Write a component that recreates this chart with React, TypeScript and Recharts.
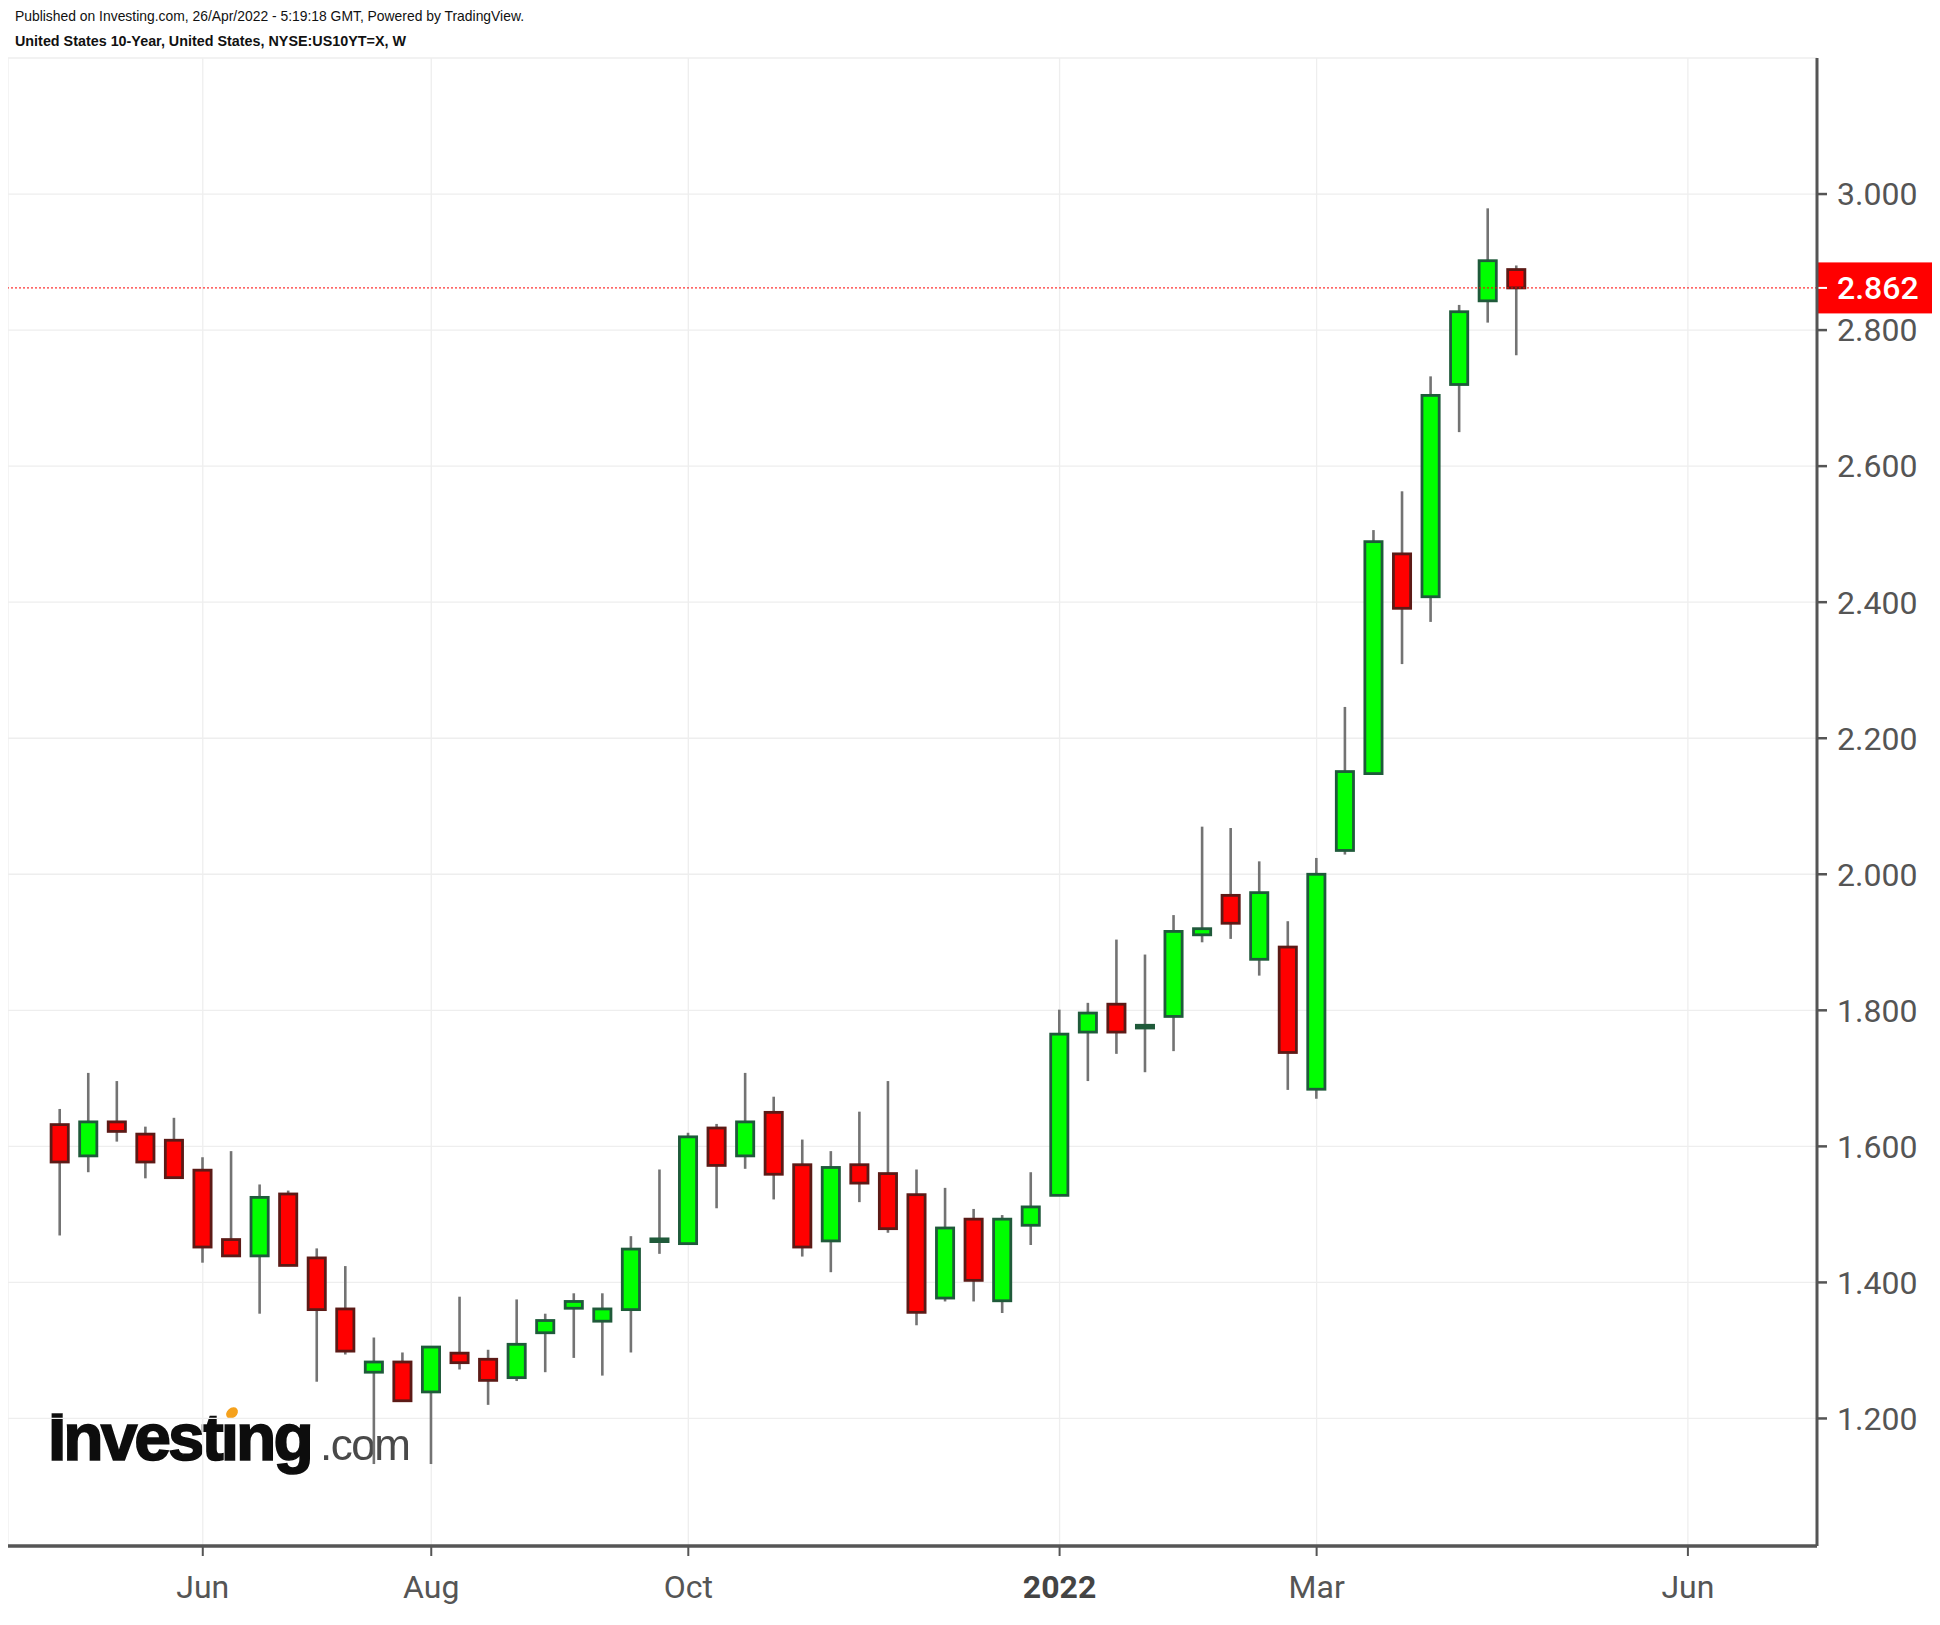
import React from 'react';
import { ComposedChart, Bar, XAxis, YAxis, CartesianGrid, ReferenceLine } from 'recharts';

// Weekly candles, United States 10-Year yield (week start dates)
const weeks = [
  '2021-05-03', '2021-05-10', '2021-05-17', '2021-05-24', '2021-05-31',
  '2021-06-07', '2021-06-14', '2021-06-21', '2021-06-28',
  '2021-07-05', '2021-07-12', '2021-07-19', '2021-07-26',
  '2021-08-02', '2021-08-09', '2021-08-16', '2021-08-23', '2021-08-30',
  '2021-09-06', '2021-09-13', '2021-09-20', '2021-09-27',
  '2021-10-04', '2021-10-11', '2021-10-18', '2021-10-25',
  '2021-11-01', '2021-11-08', '2021-11-15', '2021-11-22', '2021-11-29',
  '2021-12-06', '2021-12-13', '2021-12-20', '2021-12-27',
  '2022-01-03', '2022-01-10', '2022-01-17', '2022-01-24', '2022-01-31',
  '2022-02-07', '2022-02-14', '2022-02-21', '2022-02-28',
  '2022-03-07', '2022-03-14', '2022-03-21', '2022-03-28',
  '2022-04-04', '2022-04-11', '2022-04-18', '2022-04-25',
];

const openVals = [
  1.632, 1.586, 1.636, 1.618, 1.609,
  1.565, 1.463, 1.439, 1.530,
  1.436, 1.361, 1.268, 1.283,
  1.239, 1.296, 1.287, 1.260, 1.326,
  1.362, 1.343, 1.360, 1.460,
  1.457, 1.627, 1.586, 1.650,
  1.573, 1.461, 1.573, 1.560, 1.529,
  1.377, 1.493, 1.373, 1.484,
  1.528, 1.768, 1.809, 1.774, 1.791,
  1.911, 1.969, 1.875, 1.893,
  1.684, 2.035, 2.148, 2.471,
  2.408, 2.720, 2.843, 2.889,
];

const highVals = [
  1.655, 1.708, 1.696, 1.629, 1.642,
  1.584, 1.593, 1.544, 1.535,
  1.450, 1.424, 1.319, 1.297,
  1.306, 1.379, 1.301, 1.375, 1.354,
  1.384, 1.384, 1.468, 1.566,
  1.620, 1.633, 1.708, 1.673,
  1.610, 1.593, 1.651, 1.696, 1.566,
  1.539, 1.508, 1.499, 1.562,
  1.801, 1.811, 1.904, 1.882, 1.940,
  2.070, 2.068, 2.019, 1.931,
  2.024, 2.246, 2.506, 2.563,
  2.732, 2.837, 2.979, 2.895,
];

const lowVals = [
  1.469, 1.562, 1.607, 1.553, 1.553,
  1.429, 1.438, 1.354, 1.424,
  1.254, 1.294, 1.133, 1.225,
  1.133, 1.272, 1.220, 1.255, 1.268,
  1.289, 1.263, 1.297, 1.442,
  1.456, 1.509, 1.567, 1.522,
  1.438, 1.415, 1.518, 1.473, 1.337,
  1.372, 1.372, 1.355, 1.455,
  1.527, 1.696, 1.736, 1.709, 1.740,
  1.900, 1.905, 1.851, 1.683,
  1.670, 2.029, 2.147, 2.309,
  2.371, 2.650, 2.811, 2.763,
];

const closeVals = [
  1.577, 1.636, 1.622, 1.577, 1.554,
  1.452, 1.439, 1.525, 1.425,
  1.360, 1.299, 1.283, 1.226,
  1.305, 1.282, 1.256, 1.309, 1.344,
  1.372, 1.361, 1.449, 1.464,
  1.614, 1.572, 1.636, 1.559,
  1.452, 1.569, 1.546, 1.479, 1.356,
  1.480, 1.403, 1.493, 1.511,
  1.765, 1.796, 1.768, 1.778, 1.916,
  1.920, 1.928, 1.973, 1.738,
  2.000, 2.151, 2.489, 2.391,
  2.704, 2.827, 2.902, 2.862,
];

// x ticks: bar index where each month starts (Jun 2022 is in the future space)
const xTickPositions = [5, 13, 22, 35, 44, 57];
const xTickLabels = ['Jun', 'Aug', 'Oct', '2022', 'Mar', 'Jun'];
const yTicks = [1.2, 1.4, 1.6, 1.8, 2.0, 2.2, 2.4, 2.6, 2.8, 3.0];

const lastPrice = closeVals[closeVals.length - 1];

const data = weeks.map((w, i) => ({
  i,
  week: w,
  open: openVals[i],
  high: highVals[i],
  low: lowVals[i],
  close: closeVals[i],
  range: [lowVals[i], highVals[i]],
}));

const GREEN = '#00ff00';
const GREEN_EDGE = '#1f5a3a';
const RED = '#ff0000';
const RED_EDGE = '#5c1a16';
const WICK = '#737373';
const AXIS = '#555555';

const Candle = (props: any) => {
  const { x, y, width, height, payload } = props;
  if (payload == null || height == null) return null;
  const { open, close, high, low } = payload;
  const up = close >= open;
  const ratio = height / (high - low);
  const cx = x + width / 2;
  const bodyTop = y + (high - Math.max(open, close)) * ratio;
  const bodyBottom = y + (high - Math.min(open, close)) * ratio;
  const bodyH = Math.max(bodyBottom - bodyTop, 0.6);
  return (
    <g>
      <line x1={cx} x2={cx} y1={y} y2={y + height} stroke={WICK} strokeWidth={2.6} />
      <rect
        x={x + 1.4}
        y={bodyTop}
        width={width - 2.8}
        height={bodyH}
        fill={up ? GREEN : RED}
        stroke={up ? GREEN_EDGE : RED_EDGE}
        strokeWidth={2.8}
      />
    </g>
  );
};

const XTick = (props: any) => {
  const { x, y, payload } = props;
  const idx = xTickPositions.indexOf(payload.value);
  const label = idx >= 0 ? xTickLabels[idx] : '';
  const bold = label === '2022';
  return (
    <text
      x={x}
      y={y}
      dy="0.71em"
      textAnchor="middle"
      fill={bold ? '#444444' : AXIS}
      fontSize={32}
      fontWeight={bold ? 700 : 400}
      fontFamily="Roboto, sans-serif"
    >
      {label}
    </text>
  );
};

const PriceTag = (props: any) => {
  const vb = props.viewBox || {};
  const right = (vb.x || 0) + (vb.width || 0);
  const y = vb.y || 0;
  return (
    <g>
      <rect x={right - 1} y={y - 25.5} width={118} height={51} fill={RED} />
      <line x1={right} x2={right + 10} y1={y} y2={y} stroke="#ffffff" strokeWidth={2} />
      <text
        x={right + 20}
        y={y}
        dy="0.355em"
        fill="#ffffff"
        fontSize={32}
        fontWeight={500}
        fontFamily="Roboto, sans-serif"
      >
        {lastPrice.toFixed(3)}
      </text>
    </g>
  );
};

const W = 1924;
const H = 1600;

export default function App() {
  return (
    <div style={{ position: 'relative', width: W, height: H, background: '#ffffff' }}>
      <svg
        width={W}
        height={H}
        style={{ position: 'absolute', left: 0, top: 0, zIndex: 0 }}
      >
        <defs>
          <filter id="logoBlur" x="-5%" y="-20%" width="110%" height="140%">
            <feGaussianBlur stdDeviation="0.7" />
          </filter>
        </defs>
        <text
          x={7}
          y={13}
          fontFamily="'Liberation Sans', Arial, sans-serif"
          fontSize={15}
          fill="#111"
          textLength={509}
          lengthAdjust="spacingAndGlyphs"
        >
          Published on Investing.com, 26/Apr/2022 - 5:19:18 GMT, Powered by TradingView.
        </text>
        <text
          x={7}
          y={38}
          fontFamily="'Liberation Sans', Arial, sans-serif"
          fontSize={15}
          fontWeight={700}
          fill="#111"
          textLength={391}
          lengthAdjust="spacingAndGlyphs"
        >
          United States 10-Year, United States, NYSE:US10YT=X, W
        </text>
        <g filter="url(#logoBlur)">
          <text
            x={40}
            y={1452}
            fontFamily="'Liberation Sans', Arial, sans-serif"
            fontSize={66}
            fontWeight={700}
            letterSpacing={-3}
            fill="#0a0a0a"
            stroke="#0a0a0a"
            strokeWidth={1.6}
          >
            Investing
          </text>
          <rect x={212} y={1400} width={20} height={14} fill="#ffffff" />
          <ellipse
            cx={224}
            cy={1405}
            rx={6.5}
            ry={5}
            fill="#f5a11c"
            transform="rotate(-40 224 1405)"
          />
          <text
            x={312}
            y={1452}
            fontFamily="'Liberation Sans', Arial, sans-serif"
            fontSize={44}
            letterSpacing={-1.5}
            fill="#4a4a4a"
          >
            .com
          </text>
        </g>
      </svg>
      <div style={{ position: 'absolute', left: 0, top: 0, zIndex: 1 }}>
        <ComposedChart
          width={W}
          height={H}
          data={data}
          margin={{ top: 50, right: 0, bottom: 0, left: 0 }}
        >
          <CartesianGrid stroke="#eeeeee" strokeWidth={1.3} />
          <XAxis
            type="number"
            dataKey="i"
            domain={[-1.82, 61.52]}
            ticks={xTickPositions}
            interval={0}
            height={62}
            allowDataOverflow
            axisLine={{ stroke: AXIS, strokeWidth: 3.5 }}
            tickLine={{ stroke: AXIS, strokeWidth: 2 }}
            tickSize={10}
            tickMargin={19}
            tick={<XTick />}
          />
          <YAxis
            orientation="right"
            type="number"
            domain={[1.0125, 3.2]}
            ticks={yTicks}
            interval={0}
            width={115}
            allowDataOverflow
            axisLine={{ stroke: AXIS, strokeWidth: 3 }}
            tickLine={{ stroke: AXIS, strokeWidth: 2.5 }}
            tickSize={10}
            tickMargin={10}
            tick={{ fill: AXIS, fontSize: 32, fontFamily: 'Roboto, sans-serif' }}
            tickFormatter={(v: number) => v.toFixed(3)}
          />
          <Bar
            dataKey="range"
            barSize={20}
            shape={<Candle />}
            isAnimationActive={false}
          />
          <ReferenceLine
            y={lastPrice}
            stroke={RED}
            strokeWidth={1}
            strokeDasharray="2 2"
            label={(p: any) => <PriceTag {...p} />}
          />
        </ComposedChart>
      </div>
    </div>
  );
}
